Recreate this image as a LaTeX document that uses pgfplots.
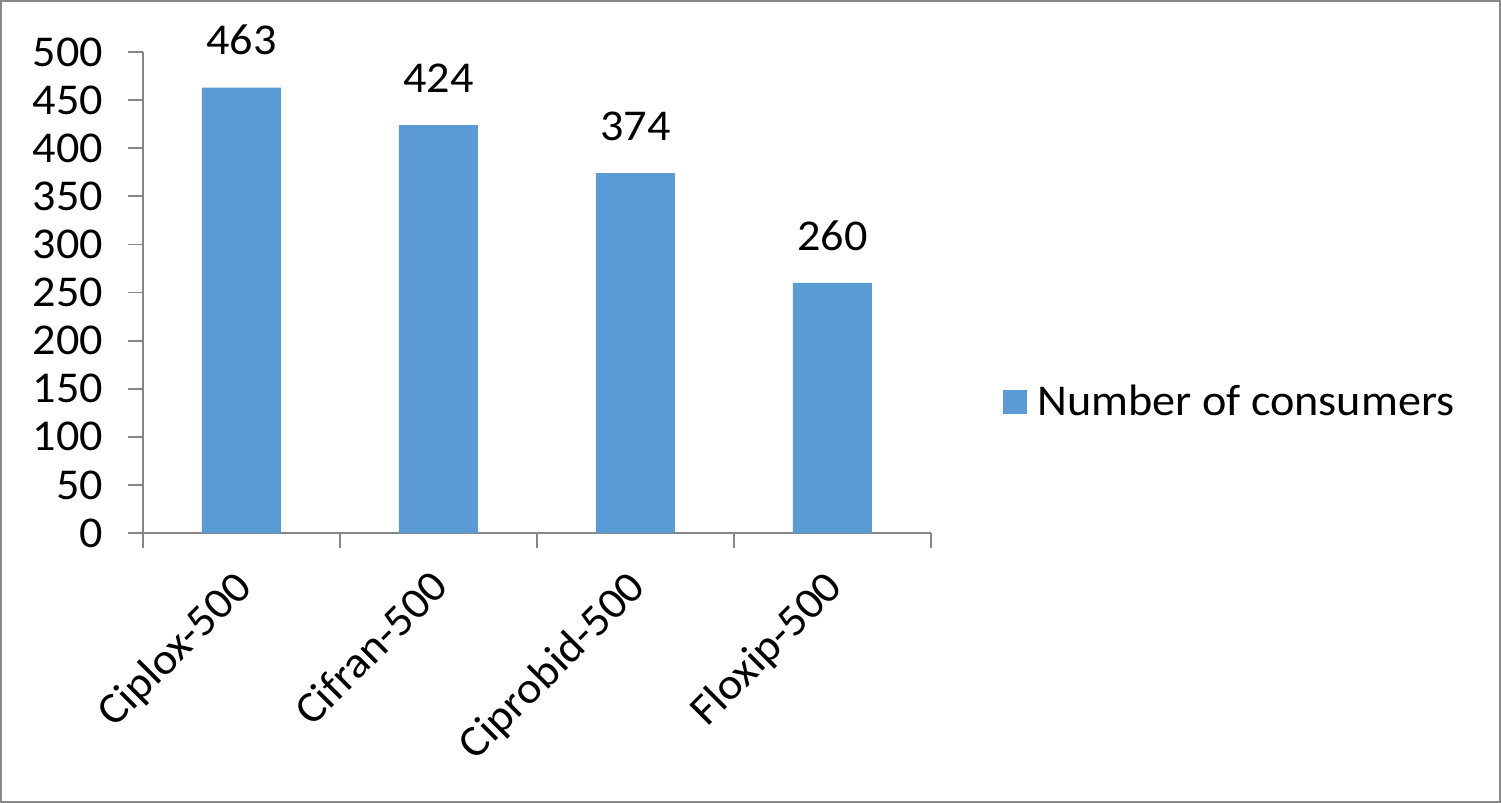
\documentclass[border=0pt]{standalone}
\usepackage{fontspec}
\setmainfont{Carlito}[FakeStretch=1.05]
\usepackage{pgfplots}
\pgfplotsset{compat=1.18}
\definecolor{barblue}{RGB}{91,155,213}
\definecolor{axgray}{RGB}{134,134,134}
\definecolor{framegray}{RGB}{137,137,137}
\newcommand{\chartfont}{\fontsize{22}{26}\selectfont}

\begin{document}
\begin{tikzpicture}
\useasboundingbox (-71.5pt,-135pt) rectangle (679pt,266.5pt);
\draw[framegray, line width=1pt] (-71pt,-134.5pt) rectangle (678.5pt,266pt);
\begin{axis}[
  at={(0,0)}, anchor=south west,
  scale only axis, width=394pt, height=240.5pt,
  xmin=-0.5, xmax=3.5, ymin=0, ymax=500,
  clip=false,
  axis x line*=bottom, axis y line*=left,
  axis line style={axgray, line width=0.9pt, -},
  ytick={0,50,...,500},
  xtick={-0.5,0.5,1.5,2.5,3.5},
  xticklabels={Ciplox-500,Cifran-500,Ciprobid-500,Floxip-500,{}},
  tick style={axgray, line width=0.9pt},
  major tick length=7.5pt,
  tick align=outside,
  tick label style={font=\chartfont, text=black},
  /pgf/number format/assume math mode=true,
  yticklabel style={xshift=-9pt},
  xticklabel style={xshift=44.5pt, yshift=-5pt, rotate=45, anchor=north east},
  ybar, bar width=39.5pt,
  legend style={draw=none, fill=none, at={(1.0914,0.2723)}, anchor=west,
    inner sep=0pt, font=\chartfont, legend cell align=left,
    nodes={inner xsep=5pt}},
  legend image code/.code={\fill[#1] (-2pt,-6pt) rectangle (10pt,6pt);},
]
\addplot[fill=barblue, draw=none,
  nodes near coords,
  every node near coord/.append style={font=\chartfont, text=black,
    inner sep=0pt, anchor=south, yshift=16pt}]
  coordinates {(0,463) (1,424) (2,374) (3,260)};
\addlegendentry{Number of consumers}
\end{axis}
\end{tikzpicture}
\end{document}
